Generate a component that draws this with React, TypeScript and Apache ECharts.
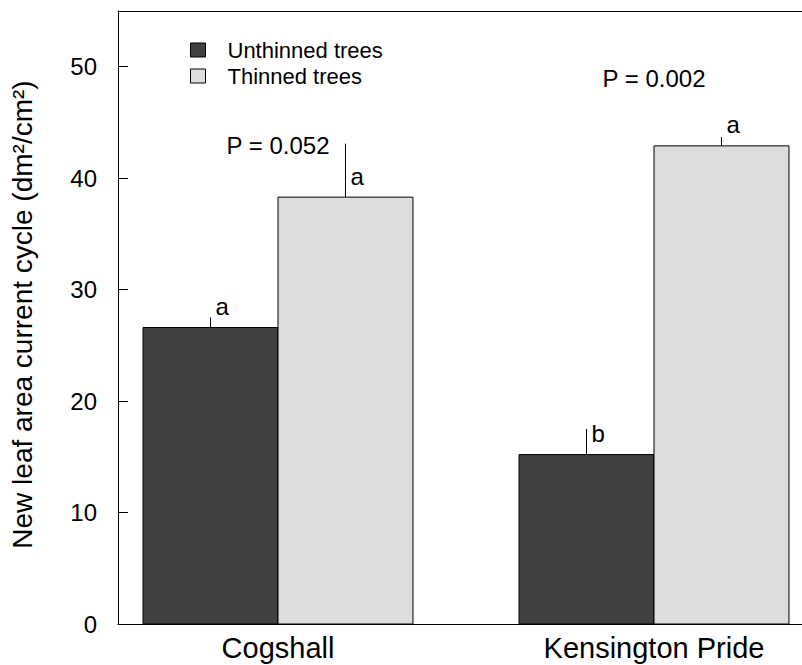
import React, { useEffect, useRef } from "react";
import * as echarts from "echarts";

const categories = ["Cogshall", "Kensington Pride"];
const categoryPos = [1, 2];
const unthinned = [26.6, 15.2];
const unthinnedErr = [0.9, 2.3];
const unthinnedLetters = ["a", "b"];
const thinned = [38.3, 42.9];
const thinnedErr = [4.8, 0.8];
const thinnedLetters = ["a", "a"];
const pLabels = ["P = 0.052", "P = 0.002"];
const pLabelY = [42.9, 48.9];
const yTicks = [0, 10, 20, 30, 40, 50];

const FONT = "'Liberation Sans', Arial, Helvetica, sans-serif";
const BAR_W = 0.359;
const DARK = "#404040";
const LIGHT = "#dddddd";

function makeRender(side: number, letters: string[], color: string) {
  return (params: any, api: any) => {
    const c = api.value(0);
    const v = api.value(1);
    const e = api.value(2);
    const x0 = side < 0 ? c - BAR_W : c;
    const x1 = side < 0 ? c : c + BAR_W;
    const p0 = api.coord([x0, v]);
    const p1 = api.coord([x1, 0]);
    const mid = api.coord([(x0 + x1) / 2, v]);
    const top = api.coord([(x0 + x1) / 2, v + e]);
    return {
      type: "group",
      children: [
        {
          type: "rect",
          shape: { x: p0[0], y: p0[1], width: p1[0] - p0[0], height: p1[1] - p0[1] },
          style: { fill: color, stroke: "#000", lineWidth: 1 },
        },
        {
          type: "line",
          shape: { x1: mid[0], y1: mid[1], x2: top[0], y2: top[1] },
          style: { stroke: "#000", lineWidth: 1 },
        },
        {
          type: "text",
          x: mid[0] + 5,
          y: mid[1] - 21,
          style: {
            text: letters[params.dataIndex],
            fontSize: 24,
            fontFamily: FONT,
            fill: "#000",
            align: "left",
            verticalAlign: "middle",
          },
        },
      ],
    };
  };
}

export default function App() {
  const ref = useRef<HTMLDivElement>(null);
  useEffect(() => {
    if (!ref.current) return;
    const chart = echarts.init(ref.current, null, { renderer: "svg" });
    const min = 1 - 160 / 376;
    const max = 2 + 148 / 376;
    chart.setOption({
      animation: false,
      backgroundColor: "#fff",
      textStyle: { fontFamily: FONT },
      grid: { left: 118, right: 0, top: 11, bottom: 41 },
      legend: {
        orient: "vertical",
        left: 185,
        top: 34,
        itemWidth: 15,
        itemHeight: 14,
        itemGap: 4,
        icon: "rect",
        textStyle: { fontSize: 22, color: "#000", fontFamily: FONT, padding: [0, 0, 0, 17], lineHeight: 22 },
        data: [
          { name: "Unthinned trees", itemStyle: { color: DARK, borderColor: "#000", borderWidth: 1 } },
          { name: "Thinned trees", itemStyle: { color: LIGHT, borderColor: "#000", borderWidth: 1 } },
        ],
      },
      xAxis: [
        {
          type: "value",
          min,
          max,
          position: "bottom",
          axisLine: { show: true, lineStyle: { color: "#000", width: 1 } },
          axisTick: { show: false },
          splitLine: { show: false },
          axisLabel: {
            customValues: categoryPos,
            formatter: (v: number) => categories[categoryPos.indexOf(Math.round(v))] ?? "",
            fontSize: 29,
            color: "#000",
            margin: 9,
            fontFamily: FONT,
          },
        },
        {
          type: "value",
          min,
          max,
          position: "top",
          axisLine: { show: true, lineStyle: { color: "#000", width: 1 } },
          axisTick: { show: false },
          splitLine: { show: false },
          axisLabel: { show: false },
        },
      ],
      yAxis: {
        type: "value",
        min: 0,
        max: 55,
        name: "New leaf area current cycle (dm²/cm²)",
        nameLocation: "middle",
        nameGap: 82,
        nameTextStyle: { fontSize: 28, color: "#000", fontFamily: FONT, padding: [0, 0, 0, 6] },
        axisLine: { show: true, lineStyle: { color: "#000", width: 1 } },
        axisTick: { show: true, inside: true, length: 10, customValues: yTicks, lineStyle: { color: "#000" } },
        splitLine: { show: false },
        axisLabel: { customValues: yTicks, fontSize: 24, color: "#000", margin: 21, fontFamily: FONT },
      },
      series: [
        {
          type: "custom",
          name: "Unthinned trees",
          itemStyle: { color: DARK },
          renderItem: makeRender(-1, unthinnedLetters, DARK),
          data: categoryPos.map((c, i) => [c, unthinned[i], unthinnedErr[i]]),
        },
        {
          type: "custom",
          name: "Thinned trees",
          itemStyle: { color: LIGHT },
          renderItem: makeRender(1, thinnedLetters, LIGHT),
          data: categoryPos.map((c, i) => [c, thinned[i], thinnedErr[i]]),
        },
        {
          type: "custom",
          name: "P",
          renderItem: (params: any, api: any) => {
            const p = api.coord([api.value(0), api.value(1)]);
            return {
              type: "text",
              x: p[0],
              y: p[1],
              style: {
                text: pLabels[params.dataIndex],
                fontSize: 24,
                fontFamily: FONT,
                fill: "#000",
                align: "center",
                verticalAlign: "middle",
              },
            };
          },
          data: categoryPos.map((c, i) => [c, pLabelY[i]]),
        },
      ],
    });
    return () => chart.dispose();
  }, []);
  return (
    <div
      ref={ref}
      style={{ position: "absolute", left: 0, top: 0, width: 802, height: 665 }}
    />
  );
}
